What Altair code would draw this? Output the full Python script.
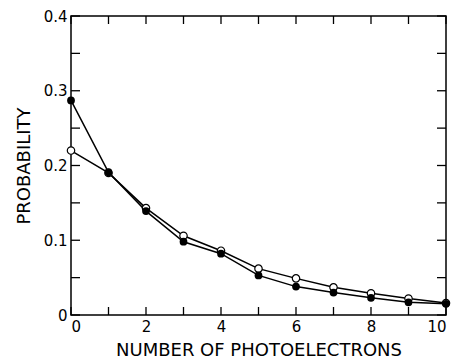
import altair as alt
import pandas as pd

# Data
n_photo = [0, 1, 2, 3, 4, 5, 6, 7, 8, 9, 10]
p_filled = [0.287, 0.191, 0.139, 0.098, 0.082, 0.053, 0.038, 0.030, 0.023, 0.017, 0.015]
p_open = [0.220, 0.190, 0.143, 0.106, 0.086, 0.062, 0.049, 0.037, 0.029, 0.022, 0.016]

x_tick_vals = [0, 1, 2, 3, 4, 5, 6, 7, 8, 9, 10]
y_tick_vals = [0, 0.05, 0.1, 0.15, 0.2, 0.25, 0.3, 0.35, 0.4]
x_label_vals = [0, 2, 4, 6, 8, 10]
y_label_vals = [0, 0.1, 0.2, 0.3, 0.4]

W, H = 375, 299
FONT = "DejaVu Sans"

df_f = pd.DataFrame({"n": n_photo, "p": p_filled})
df_o = pd.DataFrame({"n": n_photo, "p": p_open})
df_xt = pd.DataFrame({"n": x_tick_vals})
df_yt = pd.DataFrame({"p": y_tick_vals})

xscale = alt.Scale(domain=[0, 10], nice=False, zero=False)
yscale = alt.Scale(domain=[0, 0.4], nice=False)

x_main = alt.X(
    "n:Q", scale=xscale,
    axis=alt.Axis(values=x_label_vals, ticks=False, domain=False, grid=False,
                  format="d", title="NUMBER OF PHOTOELECTRONS",
                  labelFontSize=15, labelPadding=4, titleFontSize=18,
                  titlePadding=7),
)
y_main = alt.Y(
    "p:Q", scale=yscale,
    axis=alt.Axis(values=y_label_vals, ticks=False, domain=False, grid=False,
                  labelExpr="datum.value == 0 ? '0' : format(datum.value, '.1f')",
                  title="PROBABILITY", labelFontSize=15, labelPadding=4,
                  titleFontSize=18, titlePadding=10),
)

line_open = alt.Chart(df_o).mark_line(color="black", strokeWidth=1.5).encode(x=x_main, y=y_main)
line_filled = alt.Chart(df_f).mark_line(color="black", strokeWidth=1.5).encode(x=x_main, y=y_main)
pts_open = alt.Chart(df_o).mark_point(shape="circle", filled=True, fill="white", stroke="black",
                                      strokeWidth=1.2, size=55, opacity=1).encode(x=x_main, y=y_main)
pts_filled = alt.Chart(df_f).mark_point(shape="circle", filled=True, color="black",
                                        size=60, opacity=1).encode(x=x_main, y=y_main)

xt_bottom = alt.Chart(df_xt).mark_rule(color="black", strokeWidth=1.3).encode(
    x=x_main, y=alt.value(H), y2=alt.value(H - 8))
xt_top = alt.Chart(df_xt).mark_rule(color="black", strokeWidth=1.3).encode(
    x=x_main, y=alt.value(0), y2=alt.value(8))
yt_left = alt.Chart(df_yt).mark_rule(color="black", strokeWidth=1.3).encode(
    y=y_main, x=alt.value(0), x2=alt.value(9))
yt_right = alt.Chart(df_yt).mark_rule(color="black", strokeWidth=1.3).encode(
    y=y_main, x=alt.value(W), x2=alt.value(W - 9))

chart = alt.layer(
    line_open, line_filled, xt_bottom, xt_top, yt_left, yt_right, pts_open, pts_filled
).properties(
    width=W, height=H,
    autosize=alt.AutoSizeParams(type="none"),
    padding={"left": 71, "top": 16, "right": 10, "bottom": 45},
    background="white",
).configure_view(
    stroke="black", strokeWidth=1.5
).configure_axis(
    labelFont=FONT, titleFont=FONT, labelColor="black", titleColor="black",
    titleFontWeight="normal",
)

chart.save("out.html", embed_options={"renderer": "svg", "actions": False})
